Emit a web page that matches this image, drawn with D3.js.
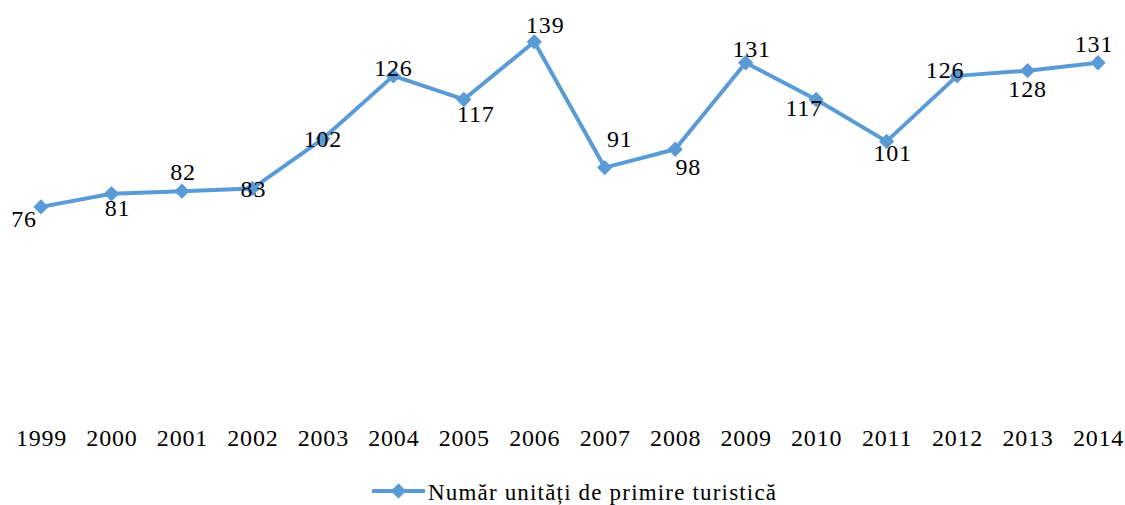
<!DOCTYPE html>
<html>
<head>
<meta charset="utf-8">
<script src="https://cdn.jsdelivr.net/npm/d3@7"></script>
<style>
  html, body { margin: 0; padding: 0; background: #fff; }
  svg text { font-family: "Liberation Serif", "Times New Roman", serif; fill: #000; }
</style>
</head>
<body>
<svg id="chart" width="1125" height="505"></svg>
<script>
// Number of tourist accommodation units per year
const years = ["1999","2000","2001","2002","2003","2004","2005","2006",
               "2007","2008","2009","2010","2011","2012","2013","2014"];
const units = [76, 81, 82, 83, 102, 126, 117, 139, 91, 98, 131, 117, 101, 126, 128, 131];
const seriesName = "Număr unități de primire turistică";

const color = "#5B9BD5";
const svg = d3.select("#chart");

const x = d3.scalePoint().domain(years).range([41, 1098]);
const y = d3.scaleLinear().domain([0, 150]).range([406, 13]);

// Category axis (no line, no ticks)
const xAxis = svg.append("g")
  .attr("transform", "translate(0,446)")
  .call(d3.axisBottom(x).tickSize(0).tickPadding(0));
xAxis.select(".domain").remove();
xAxis.selectAll("text")
  .attr("y", 0)
  .attr("dy", 0)
  .style("font-size", "24px")
  .style("letter-spacing", "0.8px");

// Line
const line = d3.line()
  .x((d, i) => x(years[i]))
  .y(d => y(d));

svg.append("path")
  .datum(units)
  .attr("d", line)
  .attr("fill", "none")
  .attr("stroke", color)
  .attr("stroke-width", 4)
  .attr("stroke-linejoin", "round");

// Diamond markers
const diamond = d3.symbol().type(d3.symbolDiamond2).size(150);
svg.append("g").selectAll("path")
  .data(units)
  .join("path")
  .attr("d", diamond)
  .attr("transform", (d, i) => `translate(${x(years[i])},${y(d)})`)
  .attr("fill", color);

// Value labels (baseline offsets), nudged off the line
const labelOffset = [
  [-17, 20], [6, 22], [1, -11], [1, 8], [0, 8], [0, 0],
  [12, 23], [11, -9], [15, -21], [13, 26], [6, -6], [-12, 17],
  [6, 20], [-12, 2], [0, 26], [-4, -11]
];
svg.append("g").selectAll("text")
  .data(units)
  .join("text")
  .attr("x", (d, i) => x(years[i]) + labelOffset[i][0])
  .attr("y", (d, i) => y(d) + labelOffset[i][1])
  .attr("text-anchor", "middle")
  .style("font-size", "24px")
  .style("letter-spacing", "0.8px")
  .text(d => d);

// Legend
const legend = svg.append("g").attr("transform", "translate(372,491)");
legend.append("line")
  .attr("x1", 0).attr("x2", 53).attr("y1", 0).attr("y2", 0)
  .attr("stroke", color).attr("stroke-width", 4);
legend.append("path")
  .attr("d", diamond)
  .attr("transform", "translate(26.5,0)")
  .attr("fill", color);
legend.append("text")
  .attr("x", 56).attr("y", 9)
  .style("font-size", "23px")
  .attr("textLength", 348)
  .attr("lengthAdjust", "spacing")
  .text(seriesName);
</script>
</body>
</html>
